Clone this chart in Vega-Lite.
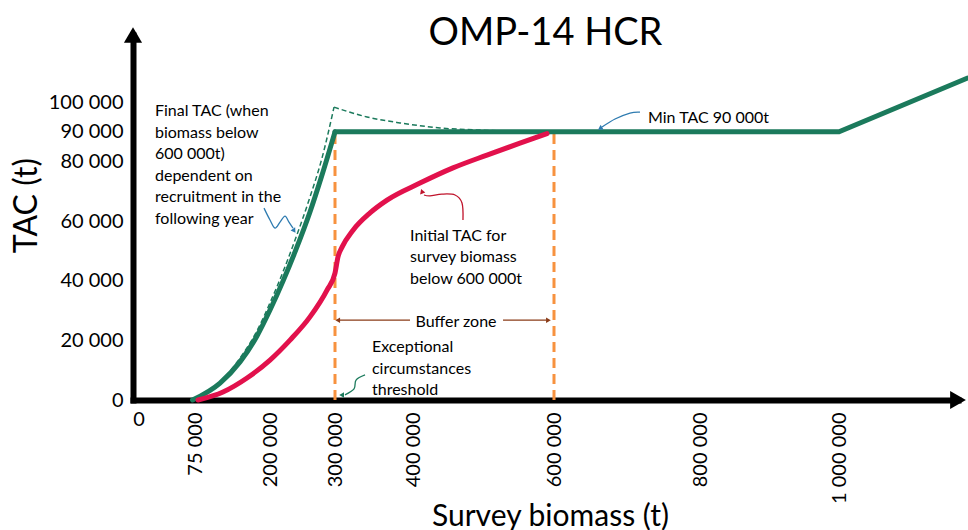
{
  "$schema": "https://vega.github.io/schema/vega-lite/v6.json",
  "width": 825,
  "height": 365,
  "autosize": {"type": "none"},
  "padding": {"left": 133, "top": 35, "right": 10, "bottom": 130},
  "background": "white",
  "title": {"text": "OMP-14 HCR", "font": "Lato", "fontSize": 38, "fontWeight": "normal", "color": "black", "anchor": "middle", "baseline": "alphabetic", "offset": -56},
  "config": {"view": {"stroke": null}, "font": "Lato"},
  "datasets": {
    "curves": [
      {"s": "hcr_rise", "o": 1, "x": 72000, "y": 0},
      {"s": "hcr_rise", "o": 2, "x": 116700, "y": 5700},
      {"s": "hcr_rise", "o": 3, "x": 150000, "y": 12800},
      {"s": "hcr_rise", "o": 4, "x": 178300, "y": 21500},
      {"s": "hcr_rise", "o": 5, "x": 200000, "y": 30200},
      {"s": "hcr_rise", "o": 6, "x": 220000, "y": 39900},
      {"s": "hcr_rise", "o": 7, "x": 238500, "y": 49700},
      {"s": "hcr_rise", "o": 8, "x": 261500, "y": 63100},
      {"s": "hcr_rise", "o": 9, "x": 280000, "y": 75500},
      {"s": "hcr_rise", "o": 10, "x": 300000, "y": 90000},
      {"s": "hcr_flat", "o": 1, "x": 300000, "y": 90000},
      {"s": "hcr_flat", "o": 2, "x": 1000000, "y": 90000},
      {"s": "hcr_flat", "o": 3, "x": 1184000, "y": 108000},
      {"s": "final_rise", "o": 1, "x": 74000, "y": 0},
      {"s": "final_rise", "o": 2, "x": 116700, "y": 6000},
      {"s": "final_rise", "o": 3, "x": 150000, "y": 14100},
      {"s": "final_rise", "o": 4, "x": 178300, "y": 23200},
      {"s": "final_rise", "o": 5, "x": 200000, "y": 32600},
      {"s": "final_rise", "o": 6, "x": 220000, "y": 43000},
      {"s": "final_rise", "o": 7, "x": 238500, "y": 53700},
      {"s": "final_rise", "o": 8, "x": 261500, "y": 68100},
      {"s": "final_rise", "o": 9, "x": 280000, "y": 81200},
      {"s": "final_rise", "o": 10, "x": 298500, "y": 98300},
      {"s": "final_fall", "o": 1, "x": 298500, "y": 98300},
      {"s": "final_fall", "o": 2, "x": 341000, "y": 95000},
      {"s": "final_fall", "o": 3, "x": 383300, "y": 93000},
      {"s": "final_fall", "o": 4, "x": 438300, "y": 91300},
      {"s": "final_fall", "o": 5, "x": 495000, "y": 90600},
      {"s": "final_fall", "o": 6, "x": 551800, "y": 90200},
      {"s": "initial", "o": 1, "x": 80000, "y": 0},
      {"s": "initial", "o": 2, "x": 121700, "y": 2700},
      {"s": "initial", "o": 3, "x": 161700, "y": 7400},
      {"s": "initial", "o": 4, "x": 200000, "y": 13400},
      {"s": "initial", "o": 5, "x": 230800, "y": 20100},
      {"s": "initial", "o": 6, "x": 261500, "y": 27900},
      {"s": "initial", "o": 7, "x": 287700, "y": 36900},
      {"s": "initial", "o": 8, "x": 300000, "y": 42600},
      {"s": "initial", "o": 9, "x": 303800, "y": 48000},
      {"s": "initial", "o": 10, "x": 309000, "y": 51300},
      {"s": "initial", "o": 11, "x": 323100, "y": 57000},
      {"s": "initial", "o": 12, "x": 344900, "y": 62800},
      {"s": "initial", "o": 13, "x": 366700, "y": 67100},
      {"s": "initial", "o": 14, "x": 409900, "y": 72800},
      {"s": "initial", "o": 15, "x": 456700, "y": 77900},
      {"s": "initial", "o": 16, "x": 504900, "y": 82200},
      {"s": "initial", "o": 17, "x": 551700, "y": 86200},
      {"s": "initial", "o": 18, "x": 590000, "y": 89400}
    ],
    "thresholds": [{"x": 300000, "y": 0, "y2": 90000}, {"x": 600000, "y": 0, "y2": 90000}],
    "arrows": [
      {"id": "blue1", "o": 1, "x": 190000, "y": 64400},
      {"id": "blue1", "o": 2, "x": 200000, "y": 60400},
      {"id": "blue1", "o": 3, "x": 207700, "y": 57700},
      {"id": "blue1", "o": 4, "x": 215400, "y": 59700},
      {"id": "blue1", "o": 5, "x": 223100, "y": 61700},
      {"id": "blue1", "o": 6, "x": 229200, "y": 59700},
      {"id": "blue1", "o": 7, "x": 235400, "y": 57700},
      {"id": "blue2", "o": 1, "x": 717800, "y": 96600},
      {"id": "blue2", "o": 2, "x": 704100, "y": 96300},
      {"id": "blue2", "o": 3, "x": 683600, "y": 94300},
      {"id": "blue2", "o": 4, "x": 665800, "y": 91600},
      {"id": "red", "o": 1, "x": 470900, "y": 60400},
      {"id": "red", "o": 2, "x": 469500, "y": 66100},
      {"id": "red", "o": 3, "x": 459600, "y": 68800},
      {"id": "red", "o": 4, "x": 441100, "y": 69100},
      {"id": "red", "o": 5, "x": 424100, "y": 68500},
      {"id": "red", "o": 6, "x": 415600, "y": 68800},
      {"id": "green", "o": 1, "x": 338500, "y": 8400},
      {"id": "green", "o": 2, "x": 327000, "y": 6700},
      {"id": "green", "o": 3, "x": 324400, "y": 3700},
      {"id": "green", "o": 4, "x": 312800, "y": 1700},
      {"id": "bufL", "o": 1, "x": 396200, "y": 26800},
      {"id": "bufL", "o": 2, "x": 306000, "y": 26800},
      {"id": "bufR", "o": 1, "x": 527700, "y": 26800},
      {"id": "bufR", "o": 2, "x": 589000, "y": 26800}
    ],
    "heads": [
      {"id": "blue1", "x": 236500, "y": 57000},
      {"id": "blue2", "x": 664000, "y": 91300},
      {"id": "red", "x": 413000, "y": 69800},
      {"id": "green", "x": 309500, "y": 1700},
      {"id": "bufL", "x": 304500, "y": 26800},
      {"id": "bufR", "x": 591000, "y": 26800}
    ],
    "notes": [
      {"id": "final", "t": "Final TAC (when\nbiomass below\n600 000t)\ndependent on\nrecruitment in the\nfollowing year", "x": 26600, "y": 95300},
      {"id": "initial", "t": "Initial TAC for\nsurvey biomass\nbelow 600 000t", "x": 396200, "y": 53400},
      {"id": "min", "t": "Min TAC 90 000t", "x": 728800, "y": 93000},
      {"id": "exc", "t": "Exceptional\ncircumstances\nthreshold", "x": 347400, "y": 16100},
      {"id": "buffer", "t": "Buffer zone", "x": 461000, "y": 24500}
    ],
    "ends": [{"id": "top", "x": 0, "y": 122500}, {"id": "right", "x": 1171000, "y": 0}],
    "zero": [{"t": "0", "x": 0, "y": 0}]
  },
  "encoding": {
    "x": {
      "field": "x", "type": "quantitative",
      "scale": {"domain": [0, 75000, 200000, 300000, 400000, 600000, 800000, 1000000, 1171000], "range": [0, 62, 137, 202, 280, 421, 567, 706, 825], "nice": false, "zero": false},
      "axis": {
        "title": "Survey biomass (t)", "values": [75000, 200000, 300000, 400000, 600000, 800000, 1000000],
        "labelExpr": "replace(format(datum.value, ','), regexp(',', 'g'), ' ')",
        "grid": false, "ticks": false, "tickSize": 0, "domainColor": "black", "domainWidth": 6, "domainCap": "square",
        "labelAngle": 270, "labelAlign": "right", "labelBaseline": "middle", "labelPadding": 12, "labelOverlap": false, "labelFlush": false, "labelBound": false,
        "labelFont": "Lato", "labelFontSize": 20, "labelColor": "black",
        "titleFont": "Lato", "titleFontSize": 30, "titleFontWeight": "normal", "titleColor": "black", "titleX": 417, "titleY": 125, "titleBaseline": "alphabetic"
      }
    },
    "y": {
      "field": "y", "type": "quantitative",
      "scale": {"domain": [0, 122500], "nice": false, "zero": false},
      "axis": {
        "title": "TAC (t)", "values": [0, 20000, 40000, 60000, 80000, 90000, 100000],
        "labelExpr": "replace(format(datum.value, ','), regexp(',', 'g'), ' ')",
        "grid": false, "ticks": false, "tickSize": 0, "domainColor": "black", "domainWidth": 6, "domainCap": "square",
        "labelPadding": 10, "labelOverlap": false, "labelFlush": false, "labelBound": false,
        "labelFont": "Lato", "labelFontSize": 20, "labelColor": "black", "labelBaseline": "middle",
        "titleFont": "Lato", "titleFontSize": 32, "titleFontWeight": "normal", "titleColor": "black", "titleAngle": 270, "titleX": -107, "titleY": 170, "titleBaseline": "middle"
      }
    }
  },
  "layer": [
    {
      "data": {"name": "thresholds"},
      "mark": {"type": "rule", "color": "#f7923f", "strokeWidth": 3, "strokeDash": [10, 6]},
      "encoding": {"y2": {"field": "y2"}}
    },
    {
      "data": {"name": "curves"},
      "transform": [{"filter": "datum.s === 'final_rise' || datum.s === 'final_fall'"}],
      "mark": {"type": "line", "color": "#1b7a5c", "strokeWidth": 1.5, "strokeDash": [5, 3], "interpolate": "monotone"},
      "encoding": {"order": {"field": "o"}, "detail": {"field": "s"}}
    },
    {
      "data": {"name": "curves"},
      "transform": [{"filter": "datum.s === 'hcr_rise'"}],
      "mark": {"type": "line", "color": "#1b7a5c", "strokeWidth": 5, "strokeCap": "round", "interpolate": "monotone"},
      "encoding": {"order": {"field": "o"}}
    },
    {
      "data": {"name": "curves"},
      "transform": [{"filter": "datum.s === 'hcr_flat'"}],
      "mark": {"type": "line", "color": "#1b7a5c", "strokeWidth": 5, "strokeCap": "round"},
      "encoding": {"order": {"field": "o"}}
    },
    {
      "data": {"name": "curves"},
      "transform": [{"filter": "datum.s === 'initial'"}],
      "mark": {"type": "line", "color": "#e2114c", "strokeWidth": 5, "strokeCap": "round", "interpolate": "monotone"},
      "encoding": {"order": {"field": "o"}}
    },
    {
      "data": {"name": "arrows"},
      "mark": {"type": "line", "strokeWidth": 1.3, "interpolate": "cardinal"},
      "encoding": {
        "order": {"field": "o"},
        "detail": {"field": "id"},
        "color": {"field": "id", "type": "nominal", "legend": null, "scale": {"domain": ["blue1", "blue2", "red", "green", "bufL", "bufR"], "range": ["#2e7bb0", "#2e7bb0", "#c0142c", "#1b7a5c", "#8a3b17", "#8a3b17"]}}
      }
    },
    {
      "data": {"name": "heads"},
      "transform": [{"filter": "datum.id === 'blue1'"}],
      "mark": {"type": "point", "shape": "triangle", "filled": true, "size": 30, "angle": 146, "color": "#2e7bb0", "opacity": 1}
    },
    {
      "data": {"name": "heads"},
      "transform": [{"filter": "datum.id === 'blue2'"}],
      "mark": {"type": "point", "shape": "triangle", "filled": true, "size": 30, "angle": 238, "color": "#2e7bb0", "opacity": 1}
    },
    {
      "data": {"name": "heads"},
      "transform": [{"filter": "datum.id === 'red'"}],
      "mark": {"type": "point", "shape": "triangle", "filled": true, "size": 30, "angle": 340, "color": "#c0142c", "opacity": 1}
    },
    {
      "data": {"name": "heads"},
      "transform": [{"filter": "datum.id === 'green'"}],
      "mark": {"type": "point", "shape": "triangle", "filled": true, "size": 30, "angle": 270, "color": "#1b7a5c", "opacity": 1}
    },
    {
      "data": {"name": "heads"},
      "transform": [{"filter": "datum.id === 'bufL'"}],
      "mark": {"type": "point", "shape": "triangle", "filled": true, "size": 30, "angle": 270, "color": "#8a3b17", "opacity": 1}
    },
    {
      "data": {"name": "heads"},
      "transform": [{"filter": "datum.id === 'bufR'"}],
      "mark": {"type": "point", "shape": "triangle", "filled": true, "size": 30, "angle": 90, "color": "#8a3b17", "opacity": 1}
    },
    {
      "data": {"name": "notes"},
      "transform": [{"filter": "datum.id !== 'buffer'"}],
      "mark": {"type": "text", "align": "left", "baseline": "alphabetic", "font": "Lato", "fontSize": 16, "lineBreak": "\n", "lineHeight": 21.5, "color": "black"},
      "encoding": {"text": {"field": "t"}}
    },
    {
      "data": {"name": "notes"},
      "transform": [{"filter": "datum.id === 'buffer'"}],
      "mark": {"type": "text", "align": "center", "baseline": "alphabetic", "font": "Lato", "fontSize": 16, "color": "black"},
      "encoding": {"text": {"field": "t"}}
    },
    {
      "data": {"name": "zero"},
      "mark": {"type": "text", "align": "center", "baseline": "middle", "dx": 6, "dy": 20, "font": "Lato", "fontSize": 20, "color": "black"},
      "encoding": {"text": {"field": "t"}}
    },
    {
      "data": {"name": "ends"},
      "transform": [{"filter": "datum.id === 'top'"}],
      "mark": {"type": "point", "shape": "triangle-up", "filled": true, "size": 330, "color": "black", "opacity": 1}
    },
    {
      "data": {"name": "ends"},
      "transform": [{"filter": "datum.id === 'right'"}],
      "mark": {"type": "point", "shape": "triangle-right", "filled": true, "size": 330, "color": "black", "opacity": 1}
    }
  ]
}
